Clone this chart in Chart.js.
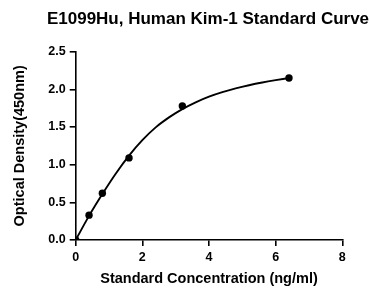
<!DOCTYPE html>
<html>
<head>
<meta charset="utf-8">
<script src="https://cdn.jsdelivr.net/npm/chart.js@4"></script>
<style>
html,body{margin:0;padding:0;background:#fff;}
#wrap{width:370px;height:289px;position:relative;}
</style>
</head>
<body>
<div id="wrap"><canvas id="c" width="370" height="289"></canvas></div>
<script>
const titleText = "E1099Hu, Human Kim-1 Standard Curve";
const xTitle = "Standard Concentration (ng/ml)";
const yTitle = "Optical Density(450nm)";

// measured standards
const stdConc = [0, 0.4, 0.8, 1.6, 3.2, 6.4];
const stdOD = [0, 0.33, 0.62, 1.09, 1.78, 2.15];

// fitted curve
const curveConc = [0, 0.4, 0.8, 1.2, 1.6, 2.0, 2.4, 2.8, 3.2, 3.6, 4.0, 4.4, 4.8, 5.2, 5.6, 6.0, 6.4];
const curveOD = [0, 0.32, 0.61, 0.88, 1.12, 1.325, 1.495, 1.628, 1.738, 1.828, 1.903, 1.963, 2.013, 2.055, 2.091, 2.122, 2.15];

const xTicks = [0, 2, 4, 6, 8];
const yTicks = [0, 0.5, 1.0, 1.5, 2.0, 2.5];

const FONT = "'Liberation Sans', Arial, sans-serif";

const topTitle = {
  id: 'topTitle',
  afterDraw(chart) {
    const ctx = chart.ctx;
    ctx.save();
    ctx.font = "bold 17px " + FONT;
    ctx.fillStyle = '#000';
    ctx.textAlign = 'center';
    ctx.textBaseline = 'middle';
    ctx.fillText(titleText, 208, 19);
    ctx.restore();
  }
};

new Chart(document.getElementById('c'), {
  type: 'scatter',
  data: {
    datasets: [
      {
        data: curveConc.map((x, i) => ({x: x, y: curveOD[i]})),
        showLine: true,
        borderColor: '#000',
        borderWidth: 1.9,
        pointRadius: 0,
        cubicInterpolationMode: 'monotone',
        fill: false
      },
      {
        data: stdConc.map((x, i) => ({x: x, y: stdOD[i]})),
        showLine: false,
        pointRadius: 3.7,
        pointBackgroundColor: '#000',
        pointBorderColor: '#000',
        pointBorderWidth: 0
      }
    ]
  },
  options: {
    responsive: false,
    animation: false,
    devicePixelRatio: 1,
    layout: {padding: {left: 0, right: 27.7, top: 51.7, bottom: 0}},
    plugins: {
      legend: {display: false},
      tooltip: {enabled: false},
      title: {display: false}
    },
    scales: {
      x: {
        type: 'linear',
        min: 0, max: 8,
        afterBuildTicks: s => { s.ticks = xTicks.map(v => ({value: v})); },
        afterFit: s => { s.height = 49; },
        grid: {display: true, drawOnChartArea: false, drawTicks: true, tickLength: 6, color: '#000', lineWidth: 1.6},
        border: {display: true, color: '#000', width: 1.6},
        ticks: {color: '#000', font: {family: FONT, size: 12.5, weight: 'bold'}, padding: 4, callback: v => String(v)},
        title: {display: true, text: xTitle, color: '#000', font: {family: FONT, size: 14.5, weight: 'bold'}, padding: {top: 0, bottom: 1}}
      },
      y: {
        type: 'linear',
        min: 0, max: 2.5,
        afterBuildTicks: s => { s.ticks = yTicks.map(v => ({value: v})); },
        afterFit: s => { s.width = 75.7; },
        grid: {display: true, drawOnChartArea: false, drawTicks: true, tickLength: 6, color: '#000', lineWidth: 1.6},
        border: {display: true, color: '#000', width: 1.6},
        ticks: {color: '#000', font: {family: FONT, size: 12.5, weight: 'bold'}, padding: 4, callback: v => v.toFixed(1)},
        title: {display: true, text: yTitle, color: '#000', font: {family: FONT, size: 14.5, weight: 'bold'}, padding: {top: 11.3, bottom: 0}}
      }
    }
  },
  plugins: [topTitle]
});
</script>
</body>
</html>
